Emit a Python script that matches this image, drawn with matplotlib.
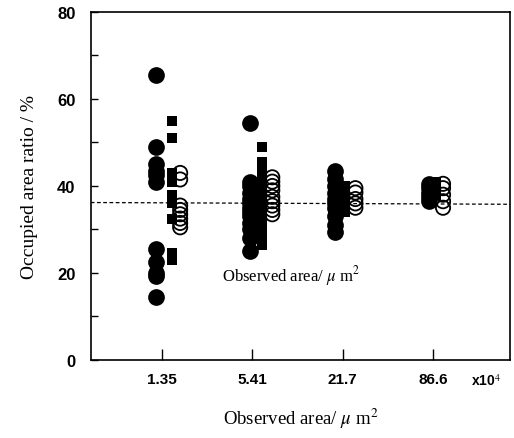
import matplotlib
matplotlib.use("Agg")
import matplotlib.pyplot as plt
from matplotlib.ticker import MultipleLocator

# ---- data ----
categories = ["1.35", "5.41", "21.7", "86.6"]
filled_circles = [
    [65.5, 49, 45, 43.5, 42.5, 41, 25.5, 22.5, 20, 19.3, 14.5],
    [54.5, 41, 40, 38.5, 37, 36, 35, 34, 33, 31.5, 30, 28, 25],
    [43.5, 41.5, 40, 38.5, 37, 36, 35, 33, 31, 29.5],
    [40.5, 39.5, 38.5, 37.5, 36.5],
]
filled_squares = [
    [55, 51, 43, 41, 38, 36, 32.5, 24.5, 23],
    [49, 45.5, 44, 42, 40, 38.5, 37, 36, 35, 33, 31.5, 30, 28, 26.5],
    [40, 38, 36.5, 35, 34],
    [41, 40, 39, 38],
]
open_circles = [
    [43, 41.5, 35.5, 34.5, 33.5, 32.5, 31.5, 30.5],
    [42, 41, 40, 39, 37.5, 36.5, 35.5, 34.5, 33.5],
    [39.5, 38.5, 37, 36, 35],
    [40.5, 39.5, 38, 36.5, 35],
]
dashed_y = [36.2, 35.8]

# ---- style / positions ----
off_filled = [-0.07, -0.03, -0.09, -0.05]
off_square = [0.11, 0.11, 0.02, 0.03]
off_open = [0.20, 0.22, 0.14, 0.11]

plt.rcParams['font.family'] = ['Liberation Sans', 'DejaVu Sans']
plt.rcParams['mathtext.fontset'] = 'stix'
fig = plt.figure(figsize=(5.14, 4.39), dpi=100)
ax = fig.add_axes([0.1765, 0.1777, 0.8155, 0.7927])

xpos = list(range(1, len(categories) + 1))
for i, x in enumerate(xpos):
    ax.scatter([x + off_filled[i]] * len(filled_circles[i]), filled_circles[i],
               s=145, marker='o', color='black', zorder=3, linewidths=0)
    ax.scatter([x + off_square[i]] * len(filled_squares[i]), filled_squares[i],
               s=55, marker='s', color='black', zorder=3, linewidths=0)
    ax.scatter([x + off_open[i]] * len(open_circles[i]), open_circles[i],
               s=105, marker='o', facecolors='none', edgecolors='black',
               linewidths=1.3, zorder=4)

xl = (0.21, 4.85)
ax.plot(list(xl), dashed_y, ls=(0, (3, 2)), color='black', lw=0.9, zorder=2)
ax.set_xlim(*xl)
ax.set_ylim(0, 80)

ax.set_xticks(xpos)
ax.set_xticklabels(categories, fontsize=11, fontweight='bold')
ax.yaxis.set_major_locator(MultipleLocator(20))
ax.yaxis.set_minor_locator(MultipleLocator(10))
ax.tick_params(axis='y', which='both', direction='in', length=5, width=1,
               pad=11, labelsize=12)
for lab in ax.get_yticklabels():
    lab.set_fontweight('bold')
ax.tick_params(axis='x', direction='in', length=8, width=1, pad=9)
for sp in ax.spines.values():
    sp.set_linewidth(1.2)

serif = ['Liberation Serif', 'DejaVu Serif']
ax.set_ylabel("Occupied area ratio / %", family=serif, fontsize=14, labelpad=14)
ax.set_xlabel("Observed area/ $\\mu$ m$^2$", family=serif, fontsize=13.5, labelpad=14)
ax.text(2.43, 19.5, "Observed area/ $\\mu$ m$^2$", family=serif, fontsize=12,
        ha='center', va='center')
ax.text(4.58, -4.6, "x10$^4$", fontsize=10, fontweight='bold',
        ha='center', va='center')

fig.savefig("out.png", dpi=100)
